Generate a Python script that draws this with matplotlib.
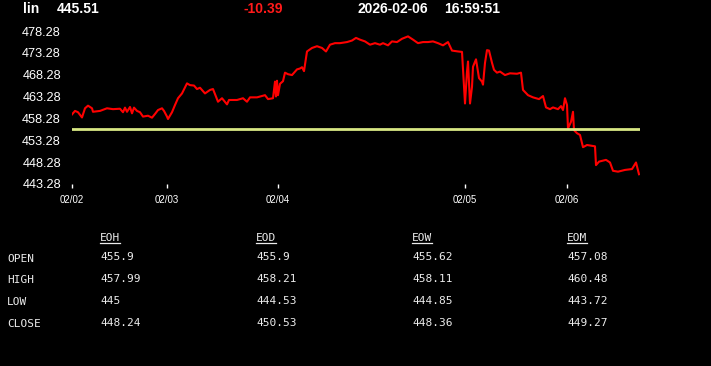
import numpy as np
import matplotlib
matplotlib.use("Agg")
import matplotlib.pyplot as plt
from matplotlib.lines import Line2D

# price series (bar index from start of 02/02, price)
bar_idx = [0, 3, 6, 10, 13, 16, 20, 21, 28, 35, 41, 48, 51, 53, 55, 58, 60, 62, 65, 68,
           71, 76, 80, 83, 86, 90, 92, 95, 96, 100, 103, 106, 110, 115, 118, 122, 125, 128,
           133, 138, 141, 146, 150, 155, 157, 165, 171, 175, 178, 185, 193,
           196, 201, 203, 204, 205, 206, 208, 211, 213, 216, 220, 225, 228, 230, 232, 235,
           240, 245, 250, 254, 258, 263, 268, 275, 280, 284, 288, 293, 298, 303, 308, 311,
           316, 320, 325, 330, 336, 341, 346, 351, 356, 361, 366, 371, 376, 380, 386, 390,
           393, 395, 396, 398,
           400, 401, 404, 407, 410, 411, 413, 415, 417, 420, 422, 425, 428, 433, 438, 445,
           449, 451, 456, 461, 467, 471, 474, 478, 481, 486, 489, 491, 493, 495, 496, 499,
           501, 502, 505, 508, 511, 515, 520, 523, 524, 527, 534, 538, 541, 546, 553, 560,
           564, 565, 567]
price = [459.2, 460.0, 459.7, 458.5, 460.6, 461.2, 460.6, 459.8, 460.0, 460.6, 460.4,
         460.5, 459.7, 460.75, 459.8, 460.9, 459.45, 460.75, 460.0, 459.7,
         458.7, 458.9, 458.45, 459.3, 460.2, 460.6, 460.0, 458.7, 458.15, 459.7, 461.35,
         462.9, 464.0, 466.3, 465.9, 465.8, 465.0, 465.3, 464.0, 464.8, 465.0, 462.1,
         462.9, 461.5, 462.5, 462.5, 462.9, 462.1, 463.1, 463.1, 463.6,
         462.7, 462.9, 466.7, 463.3, 466.9, 463.6, 466.2, 466.8, 468.75, 468.4, 468.2,
         469.5, 469.7, 470.0, 469.1, 473.6,
         474.4, 474.8, 474.4, 473.6, 475.15, 475.5, 475.5, 475.75, 476.1, 476.7, 476.3,
         475.9, 475.15, 475.5, 475.15, 475.5, 475.0, 475.9, 475.75, 476.5, 477.05, 476.3,
         475.5, 475.75, 475.75, 475.9, 475.5, 475.0, 475.75, 473.8, 473.6, 473.5,
         461.7, 468.97, 471.3, 461.7,
         465.5, 470.1, 471.8, 467.5, 466.7, 466.0, 471.0, 473.9,
         473.8, 471.0, 469.4, 468.75, 469.0, 468.2, 468.6, 468.5, 468.75, 464.8, 463.6,
         463.1, 462.7, 463.4, 460.8, 460.4, 460.8, 460.4, 461.1, 460.2, 462.9, 461.35,
         456.0, 457.5, 459.8, 455.6, 454.9, 454.5, 451.7, 452.2, 452.0, 451.9, 447.6,
         448.4, 448.8, 448.2, 446.3, 446.1, 446.5, 446.7, 448.2, 447.3, 445.51]

day_start = [0, 95, 206, 393, 495]
day_labels = ['02/02', '02/03', '02/04', '02/05', '02/06']
yticks = [443.28, 448.28, 453.28, 458.28, 463.28, 468.28, 473.28, 478.28]
ref_level = 455.9

last_price = "445.51"
change = "-10.39"
date_str = "2026-02-06"
time_str = "16:59:51"

col_names = ['EOH', 'EOD', 'EOW', 'EOM']
row_names = ['OPEN', 'HIGH', 'LOW', 'CLOSE']
eoh = ['455.9', '457.99', '445', '448.24']
eod = ['455.9', '458.21', '444.53', '450.53']
eow = ['455.62', '458.11', '444.85', '448.36']
eom = ['457.08', '460.48', '443.72', '449.27']

W, H = 711, 366
fig = plt.figure(figsize=(W / 100, H / 100), dpi=100, facecolor='black')
ax = fig.add_axes([72 / W, (H - 184) / H, (640 - 72) / W, (184 - 31) / H])
ax.set_facecolor('black')

ax.plot(bar_idx, price, color='#ff0000', linewidth=1.5)
ax.axhline(ref_level, color='#d8e884', linewidth=2)

ax.set_xlim(0, 568)
ax.set_ylim(443.28, 478.28)
ax.set_xticks(day_start)
ax.set_xticklabels(day_labels)
ax.set_yticks(yticks)
ax.set_yticklabels([f'{v:.2f}' for v in yticks])
for s in ax.spines.values():
    s.set_visible(False)
ax.tick_params(axis='x', colors='white', length=3, width=1, pad=5, labelsize=7,
               labelfontfamily='Liberation Sans')
ax.tick_params(axis='y', colors='white', length=0, pad=8, labelsize=9.2,
               labelfontfamily='Liberation Sans')

# header
hdr = dict(family='Liberation Sans', fontsize=10, fontweight='bold', va='center')
fig.text(23 / W, 1 - 9 / H, 'lin', color='white', **hdr)
fig.text(57 / W, 1 - 9 / H, last_price, color='white', **hdr)
fig.text(243 / W, 1 - 9 / H, change, color='#ff1a1a', **hdr)
fig.text(357 / W, 1 - 9 / H, date_str, color='white', **hdr)
fig.text(444 / W, 1 - 9 / H, time_str, color='white', **hdr)

# table
mono = dict(family='DejaVu Sans Mono', fontsize=8, color='#ececec', va='center')
col_x = [100, 256, 412, 567]
row_y = [259, 280, 302, 324]
cols = [eoh, eod, eow, eom]
for name, x in zip(col_names, col_x):
    fig.text(x / W, 1 - 238 / H, name, **mono)
    fig.add_artist(Line2D([x / W, (x + 20) / W], [1 - 243 / H, 1 - 243 / H],
                          transform=fig.transFigure, color='#ececec', linewidth=0.9))
for name, y in zip(row_names, row_y):
    fig.text(7 / W, 1 - y / H, name, **mono)
for vals, x in zip(cols, col_x):
    for v, y in zip(vals, row_y):
        fig.text(x / W, 1 - (y - 1.5) / H, v, **mono)

fig.savefig('out.png', dpi=100, facecolor='black')
